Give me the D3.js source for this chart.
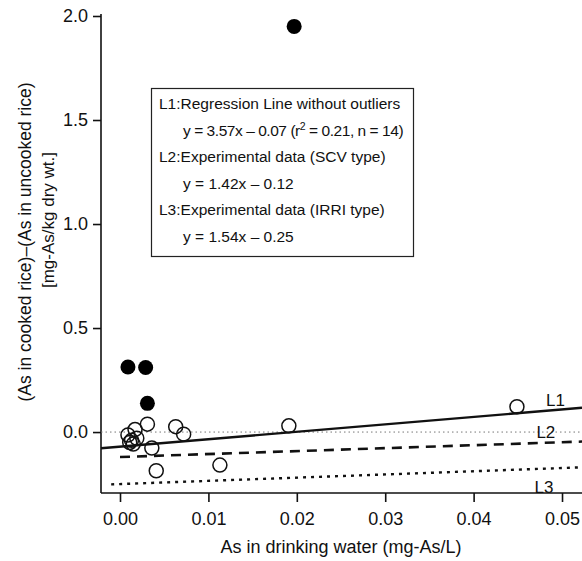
<!DOCTYPE html>
<html><head><meta charset="utf-8">
<script src="https://cdn.jsdelivr.net/npm/d3@7"></script>
<style>body{margin:0;background:#fff}svg{display:block}text{font-family:"Liberation Sans",Arial,sans-serif;fill:#111}</style>
</head><body><div id="chart"></div>
<script>
const openX = [0.0031,0.0017,0.0009,0.0013,0.0015,0.0036,0.0063,0.0072,0.0041,0.0113,0.0191,0.0449,0.0019,0.0011];
const openY = [0.038,0.012,-0.014,-0.040,-0.058,-0.077,0.026,-0.010,-0.186,-0.159,0.030,0.122,-0.030,-0.050];
const filledX = [0.0009,0.0029,0.0031,0.0197];
const filledY = [0.313,0.310,0.138,1.950];
const lineNames = ["L1","L2","L3"];
const lineSlopes = [3.57,1.42,1.54];
const lineIntercepts = [-0.07,-0.12,-0.25];
const lineStartX = [-0.00215,0.0,-0.001];
const xTicks = [0,0.01,0.02,0.03,0.04,0.05];
const yTicks = [0,0.5,1.0,1.5,2.0];
const legendLines = [
  "L1:Regression Line without outliers",
  "y = 3.57x \u2013 0.07 (r\u00B2 = 0.21, n = 14)",
  "L2:Experimental data (SCV type)",
  "y = 1.42x \u2013 0.12",
  "L3:Experimental data (IRRI type)",
  "y = 1.54x \u2013 0.25"
];
const W=582,H=561;
const svg=d3.select("#chart").append("svg").attr("width",W).attr("height",H);
const x=d3.scaleLinear().domain([-0.00215,0.05226]).range([101,582]);
const y=d3.scaleLinear().domain([-0.293,2.0096]).range([493,14]);

// axes
const xAxis=svg.append("g").attr("transform","translate(0,493)")
  .call(d3.axisBottom(x).tickValues(xTicks).tickFormat(d3.format(".2f")).tickSize(9).tickPadding(10));
const yAxis=svg.append("g").attr("transform","translate(101,0)")
  .call(d3.axisLeft(y).tickValues(yTicks).tickFormat(d3.format(".1f")).tickSize(8).tickPadding(5));
[xAxis,yAxis].forEach(g=>{
  g.select(".domain").attr("stroke","#111").attr("stroke-width",1.6);
  g.selectAll(".tick line").attr("stroke","#111").attr("stroke-width",1.6);
  g.selectAll(".tick text").style("font-size","18px").attr("fill","#111").style("font-family",'"Liberation Sans",Arial,sans-serif');
});
xAxis.select(".domain").attr("d","M101,0H582");
yAxis.select(".domain").attr("d","M0,14V493");

// zero reference line
svg.append("line").attr("x1",101).attr("x2",582).attr("y1",y(0)).attr("y2",y(0))
  .attr("stroke","#777").attr("stroke-width",1).attr("stroke-dasharray","1.5,3");

// regression lines
const styles=[{w:2.4,d:null},{w:2.6,d:"10,7"},{w:2.4,d:"3,5"}];
lineNames.forEach((n,i)=>{
  const x0=lineStartX[i], x1=0.05226;
  svg.append("line").attr("x1",x(x0)).attr("y1",y(lineSlopes[i]*x0+lineIntercepts[i]))
    .attr("x2",x(x1)).attr("y2",y(lineSlopes[i]*x1+lineIntercepts[i]))
    .attr("stroke","#111").attr("stroke-width",styles[i].w)
    .attr("stroke-dasharray",styles[i].d);
});
const labelPos=[[0.0482,0.154],[0.0471,0.0],[0.0469,-0.264]];
lineNames.forEach((n,i)=>{
  svg.append("text").attr("x",x(labelPos[i][0])).attr("y",y(labelPos[i][1])+6)
    .style("font-size","17px").text(n);
});

// points
const openPts=openX.map((v,i)=>[v,openY[i]]);
const filledPts=filledX.map((v,i)=>[v,filledY[i]]);
svg.append("g").selectAll("circle").data(openPts).join("circle")
  .attr("cx",d=>x(d[0])).attr("cy",d=>y(d[1])).attr("r",7)
  .attr("fill","none").attr("stroke","#111").attr("stroke-width",1.5);
svg.append("g").selectAll("circle").data(filledPts).join("circle")
  .attr("cx",d=>x(d[0])).attr("cy",d=>y(d[1])).attr("r",7.5)
  .attr("fill","#000");

// legend box
svg.append("rect").attr("x",151.5).attr("y",88.5).attr("width",262).attr("height",168)
  .attr("fill","#fff").attr("stroke","#222").attr("stroke-width",1.2);
legendLines.forEach((t,i)=>{
  const el=svg.append("text").attr("x",i%2===0?159:183).attr("y",109+i*26.5)
    .style("font-size","15.5px");
  if(t.includes("\u00B2")){
    el.style("letter-spacing","-0.45px");
    const parts=t.split("\u00B2");
    el.append("tspan").text(parts[0]);
    el.append("tspan").attr("dy",-6).style("font-size","10.5px").text("2");
    el.append("tspan").attr("dy",6).text(parts[1]);
  } else el.text(t);
});

// axis titles
svg.append("text").attr("x",341).attr("y",553).attr("text-anchor","middle")
  .style("font-size","18px").text("As in drinking water (mg-As/L)");
svg.append("text").attr("transform","translate(31,242) rotate(-90)").attr("text-anchor","middle")
  .style("font-size","17.5px").text("(As in cooked rice)\u2013(As in uncooked rice)");
svg.append("text").attr("transform","translate(54,220) rotate(-90)").attr("text-anchor","middle")
  .style("font-size","17px").text("[mg-As/kg dry wt.]");
</script></body></html>
